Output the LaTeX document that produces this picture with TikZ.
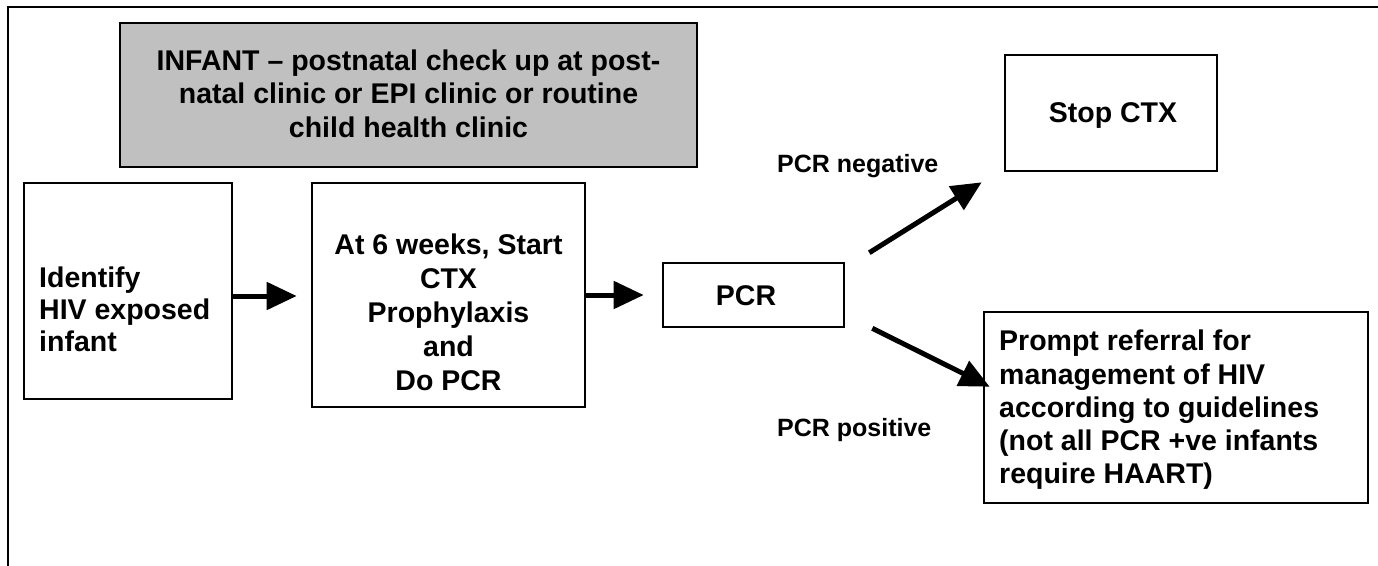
\documentclass[tikz,border=0pt]{standalone}
\usepackage{fontspec}
\setmainfont{Liberation Sans}
\usetikzlibrary{arrows.meta,calc}

\tikzset{
  box/.style={draw=black, line width=2.6pt, rectangle, inner sep=0pt},
  greybox/.style={box, fill=boxgrey},
  boxtext/.style={inner sep=0pt, font=\bfseries\fontsize{28.5}{33.5}\selectfont},
  lbl/.style={inner sep=0pt, font=\bfseries\fontsize{25}{30}\selectfont},
  arr/.style={line width=5pt, -{Triangle[length=30pt,width=27pt]}},
}
\definecolor{boxgrey}{HTML}{C0C0C0}

\begin{document}
\begin{tikzpicture}[x=1pt, y=-1pt]
  \useasboundingbox (0,0) rectangle (1378,565);
  \fill[white] (0,0) rectangle (1378,565);

  % page frame, open to the right and bottom
  \draw[line width=2.6pt] (8,570) -- (8,7) -- (1385,7);

  % boxes
  \node[greybox, minimum width=577pt, minimum height=144pt] (infant) at (408.5,95) {};
  \node[box, minimum width=208pt, minimum height=216pt] (ident) at (128,291) {};
  \node[box, minimum width=273pt, minimum height=224pt] (start) at (448.5,295) {};
  \node[box, minimum width=181pt, minimum height=64pt] (pcr) at (753.5,295) {};
  \node[box, minimum width=212pt, minimum height=116pt] (stop) at (1111,113) {};
  \node[box, minimum width=384pt, minimum height=191pt] (refer) at (1176,407.5) {};

  % box texts
  \node[boxtext, align=center] (infant-t) at (408.5,93.5)
    {INFANT -- postnatal check up at post-\\natal clinic or EPI clinic or routine\\child health clinic};
  \node[boxtext, align=left, anchor=west, font=\bfseries\fontsize{28.5}{32}\selectfont] (ident-t) at (39,309.5)
    {Identify\\HIV exposed\\infant};
  \node[boxtext, align=center, font=\bfseries\fontsize{28.5}{34}\selectfont] (start-t) at (448.5,312.5)
    {At 6 weeks, Start\\CTX\\Prophylaxis\\and\\Do PCR};
  \node[boxtext] (pcr-t) at (746,296) {PCR};
  \node[boxtext, anchor=base] (stop-t) at (1113,122) {Stop CTX};
  \node[boxtext, align=left, anchor=west, font=\bfseries\fontsize{28.5}{33.2}\selectfont] (refer-t) at (999,410)
    {Prompt referral for\\management of HIV\\according to guidelines\\(not all PCR +ve infants\\require HAART)};

  % branch labels
  \node[lbl, anchor=base west] (neg) at (777,172.7) {PCR negative};
  \node[lbl, anchor=base west] (pos) at (777,436) {PCR positive};

  % connectors
  \draw[arr, shorten >=14pt] ([yshift=-5pt]ident.east) -- ([yshift=-5pt]ident.east -| start.west);
  \draw[arr, shorten >=18pt] (start.east) -- (pcr.west);

  \coordinate (neg-a) at ($(pcr.north east)+(24,-9)$);
  \coordinate (neg-b) at ($(stop.south west)+(-22,10)$);
  \coordinate (pos-a) at ($(pcr.south east)+(27,0)$);
  \coordinate (pos-b) at ($(refer.north west)+(7,76)$);
  \draw[arr] (neg-a) -- (neg-b);
  \draw[arr] (pos-a) -- (pos-b);
\end{tikzpicture}
\end{document}
